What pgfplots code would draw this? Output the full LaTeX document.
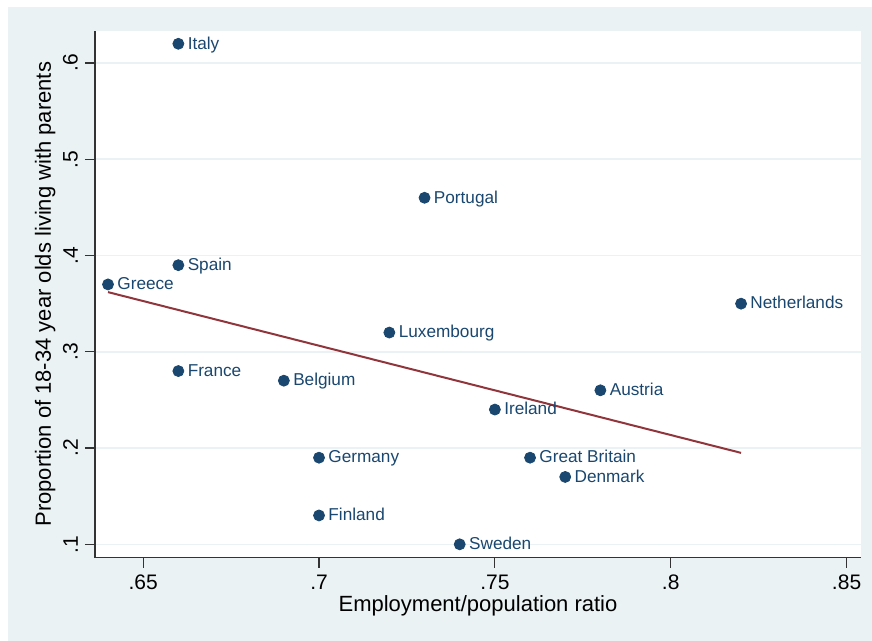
\documentclass[border=0pt]{standalone}
\usepackage{fontspec}
\setmainfont{Liberation Sans}
\usepackage{pgfplots}
\pgfplotsset{compat=1.18}
\definecolor{stbg}{HTML}{EAF2F3}
\definecolor{stnavy}{HTML}{1A476F}
\definecolor{stmaroon}{HTML}{90353B}
\begin{document}
\begin{tikzpicture}
% background (1px = 0.5pt)
\fill[white] (-47.5pt,-41.65pt) rectangle (388.5pt,278.85pt);
\fill[stbg] (-43.5pt,-41.65pt) rectangle (388.5pt,275.35pt);
\fill[white] (0,0) rectangle (383pt,263.5pt);
\begin{axis}[
  scale only axis,
  width=383pt, height=263.5pt,
  xmin=0.6363, xmax=0.8541,
  ymin=0.0861, ymax=0.6336,
  axis x line*=bottom, axis y line*=left,
  axis line style={black!80, line width=0.6pt},
  xtick={0.65,0.7,0.75,0.8,0.85},
  xticklabels={.65,.7,.75,.8,.85},
  ytick={0.1,0.2,0.3,0.4,0.5,0.6},
  yticklabels={.1,.2,.3,.4,.5,.6},
  tick align=outside,
  major tick length=5pt,
  tick style={black!80, line width=0.6pt},
  ymajorgrids,
  grid style={stbg, line width=0.8pt},
  yticklabel style={rotate=90, anchor=south, font=\fontsize{10.5}{12}\selectfont},
  xticklabel style={font=\fontsize{10.5}{12}\selectfont},
  xlabel={Employment/population ratio},
  ylabel={Proportion of 18-34 year olds living with parents},
  label style={font=\fontsize{11}{13}\selectfont},
  xlabel style={yshift=4pt},
  ylabel style={yshift=-3pt},
  /pgf/number format/assume math mode=true,
  clip=false,
]
\addplot[stmaroon, line width=1pt] coordinates {(0.64,0.362) (0.82,0.195)};
\addplot[only marks, mark=*, mark size=2.75pt, stnavy,
  point meta=explicit symbolic,
  nodes near coords={\pgfplotspointmeta},
  every node near coord/.style={anchor=mid west, inner sep=0pt, xshift=4.5pt,
    text=stnavy, font=\fontsize{8.6}{10}\selectfont}]
  table[x=x, y=y, meta=label] {
x y label
0.66 0.62 Italy
0.73 0.46 Portugal
0.66 0.39 Spain
0.64 0.37 Greece
0.82 0.35 Netherlands
0.72 0.32 Luxembourg
0.66 0.28 France
0.69 0.27 Belgium
0.78 0.26 Austria
0.75 0.24 Ireland
0.70 0.19 Germany
0.76 0.19 {Great Britain}
0.77 0.17 Denmark
0.70 0.13 Finland
0.74 0.10 Sweden
};
\end{axis}
\end{tikzpicture}
\end{document}
